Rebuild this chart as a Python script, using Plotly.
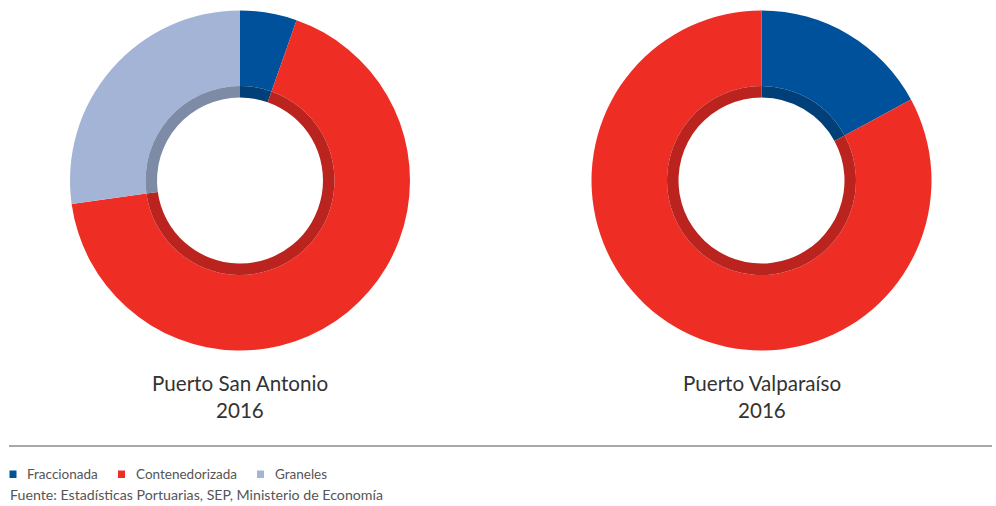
import plotly.graph_objects as go

# Cargo composition by port, 2016 (share of tonnage, %)
categories = ["Fraccionada", "Contenedorizada", "Graneles"]
san_antonio = [5.4, 67.4, 27.2]
valparaiso = [17.1, 82.9, 0.0]
port_names = ["Puerto San Antonio", "Puerto Valparaíso"]
year = "2016"
source_note = "Fuente: Estadísticas Portuarias, SEP, Ministerio de Economía"

colors = ["#00519b", "#ee2e25", "#a4b4d6"]
inner_colors = ["#003f78", "#ba231e", "#7e8ba7"]

W, H = 996, 506
FONT = "Lato"


def px_x(x):
    return x / W


def px_y(y):
    return 1 - y / H


fig = go.Figure()

# donut geometry in pixels: centre x, centre y, outer radius, ring radius
donuts = [(240, 180.5, 170, 94.5), (761.5, 180.5, 170, 94.5)]
hole_r = 83

for values, (cx, cy, r_out, r_ring) in zip([san_antonio, valparaiso], donuts):
    fig.add_trace(go.Pie(
        labels=categories, values=values, sort=False, direction="clockwise",
        rotation=0, hole=r_ring / r_out, textinfo="none", hoverinfo="label+percent",
        marker=dict(colors=colors, line=dict(width=0)), showlegend=False,
        domain=dict(x=[px_x(cx - r_out), px_x(cx + r_out)],
                    y=[px_y(cy + r_out), px_y(cy - r_out)]),
    ))
    fig.add_trace(go.Pie(
        labels=categories, values=values, sort=False, direction="clockwise",
        rotation=0, hole=hole_r / r_ring, textinfo="none", hoverinfo="skip",
        marker=dict(colors=inner_colors, line=dict(width=0)), showlegend=False,
        domain=dict(x=[px_x(cx - r_ring), px_x(cx + r_ring)],
                    y=[px_y(cy + r_ring), px_y(cy - r_ring)]),
    ))

annotations = []
shapes = []

# port captions under each donut
for name, (cx, cy, r_out, r_ring) in zip(port_names, donuts):
    annotations.append(dict(
        x=px_x(cx), y=px_y(383), xref="paper", yref="paper",
        text=name, showarrow=False, xanchor="center", yanchor="middle",
        font=dict(family=FONT, size=20.6, color="#333333"),
    ))
    annotations.append(dict(
        x=px_x(cx), y=px_y(410), xref="paper", yref="paper",
        text=year, showarrow=False, xanchor="center", yanchor="middle",
        font=dict(family=FONT, size=20.6, color="#333333"),
    ))

# separator rule
shapes.append(dict(type="line", xref="paper", yref="paper",
                   x0=px_x(9), x1=px_x(992), y0=px_y(446), y1=px_y(446),
                   line=dict(color="#555555", width=1.2)))

# legend swatches and labels
legend_x = [9.5, 118, 257]
for cat, col, lx in zip(categories, colors, legend_x):
    shapes.append(dict(type="rect", xref="paper", yref="paper",
                       x0=px_x(lx), x1=px_x(lx + 7), y0=px_y(478), y1=px_y(470.5),
                       fillcolor=col, line=dict(width=0)))
    annotations.append(dict(
        x=px_x(lx + 15.5), y=px_y(474), xref="paper", yref="paper",
        text=cat, showarrow=False, xanchor="left", yanchor="middle",
        font=dict(family=FONT, size=13.5, color="#555555"),
    ))

annotations.append(dict(
    x=px_x(7.5), y=px_y(494), xref="paper", yref="paper",
    text=source_note, showarrow=False, xanchor="left", yanchor="middle",
    font=dict(family=FONT, size=14.2, color="#555555"),
))

fig.update_layout(
    width=W, height=H, margin=dict(l=0, r=0, t=0, b=0),
    paper_bgcolor="white", plot_bgcolor="white",
    annotations=annotations, shapes=shapes,
)

fig.write_html("out.html")
